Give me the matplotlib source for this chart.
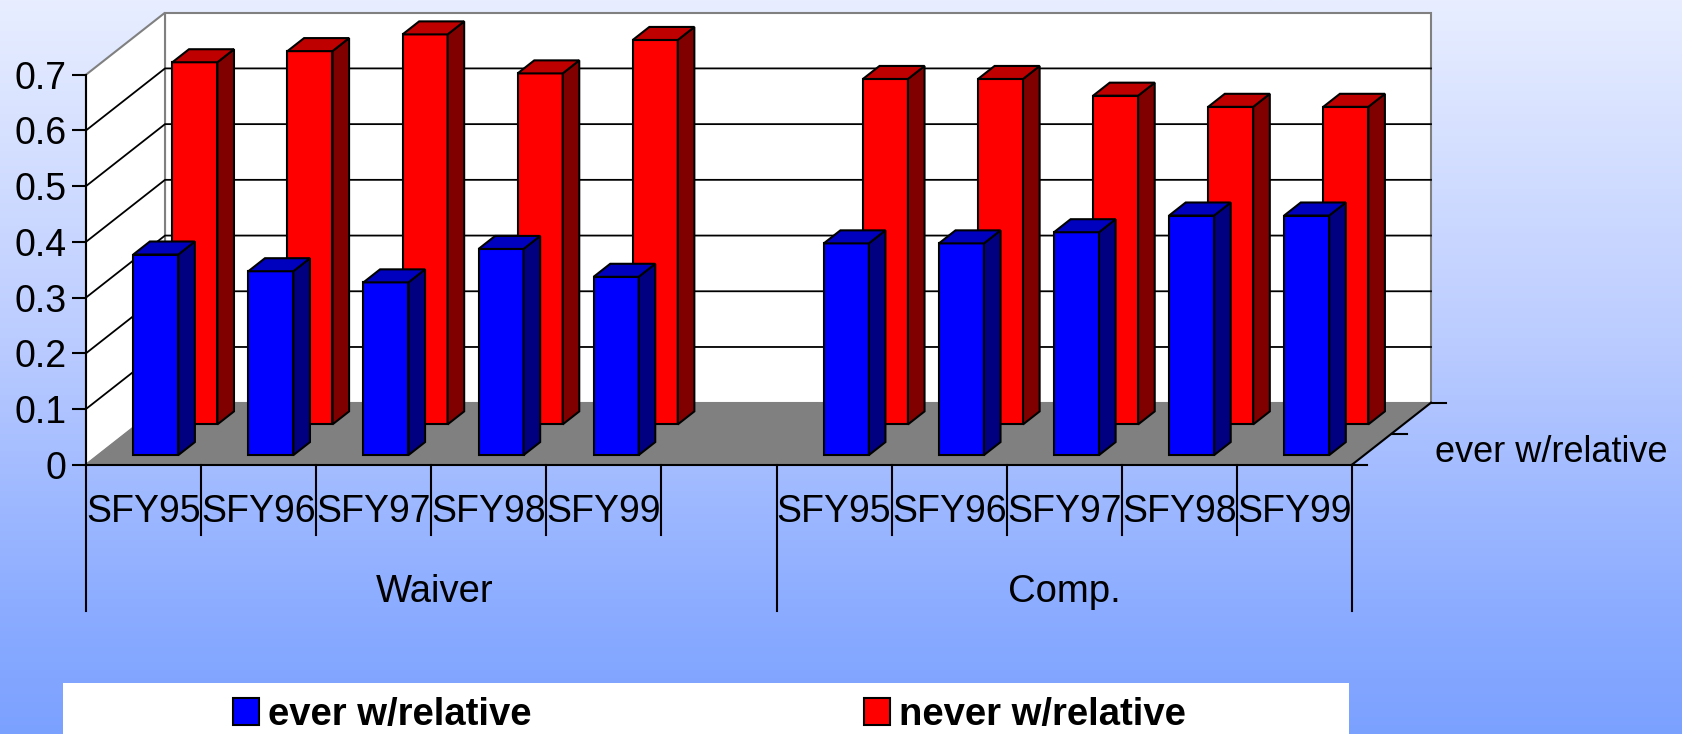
import matplotlib
matplotlib.use('Agg')
import matplotlib.pyplot as plt
import numpy as np
from matplotlib.colors import LinearSegmentedColormap
from matplotlib.patches import Patch, Polygon, Rectangle

plt.rcParams['font.family'] = ['Liberation Sans', 'DejaVu Sans']

years = ['SFY95', 'SFY96', 'SFY97', 'SFY98', 'SFY99']
groups = ['Waiver', 'Comp.']
y_ticks = [0, 0.1, 0.2, 0.3, 0.4, 0.5, 0.6, 0.7]
y_labels = ['0', '0.1', '0.2', '0.3', '0.4', '0.5', '0.6', '0.7']
ever_waiver = [0.36, 0.33, 0.31, 0.37, 0.32]
ever_comp = [0.38, 0.38, 0.40, 0.43, 0.43]
never_waiver = [0.65, 0.67, 0.70, 0.63, 0.69]
never_comp = [0.62, 0.62, 0.59, 0.57, 0.57]
series_names = ['ever w/relative', 'never w/relative']

W, H = 1682, 734
DPI = 100
# front plane of the 3d box, in pixels
LEFT, RIGHT, BASE, TOP = 86, 1352, 464.7, 74.7
N_SLOTS = 11
PX_X = (RIGHT - LEFT) / N_SLOTS
PX_Y = (BASE - TOP) / 0.7
# how far the back wall is shifted from the front plane
DX = 79 / PX_X
DY = 62 / PX_Y
BAR_W = 45 / PX_X
LW = 1.5


def shift(x, v, d):
    return x + d * DX, v + d * DY


def poly(ax, corners, **kw):
    pts = [shift(*c) for c in corners]
    ax.add_patch(Polygon(pts, closed=True, clip_on=False, **kw))


def draw_bars(ax, slots, values, d0, d1, front, side, top):
    for s, v in zip(slots, values):
        x = s + 0.5
        xf, yf = shift(x, 0, d0)
        ax.bar(xf, v, width=BAR_W, bottom=yf, color=front, edgecolor='k',
               linewidth=LW, clip_on=False, zorder=3)
        l, r = x - BAR_W / 2, x + BAR_W / 2
        poly(ax, [(r, 0, d0), (r, 0, d1), (r, v, d1), (r, v, d0)],
             facecolor=side, edgecolor='k', linewidth=LW, zorder=3)
        poly(ax, [(l, v, d0), (r, v, d0), (r, v, d1), (l, v, d1)],
             facecolor=top, edgecolor='k', linewidth=LW, zorder=3)


fig = plt.figure(figsize=(W / DPI, H / DPI), dpi=DPI)

# background gradient
bg = fig.add_axes([0, 0, 1, 1], zorder=-1)
cmap = LinearSegmentedColormap.from_list(
    'bg', [(0, '#E8EEFF'), (0.46, '#BBCCFF'), (0.84, '#8AABFF'), (1, '#7BA1FF')])
bg.imshow(np.linspace(0, 1, 256).reshape(-1, 1), aspect='auto', cmap=cmap)
bg.axis('off')

# white legend strip
fig.add_artist(Rectangle((63 / W, 0), (1349 - 63) / W, (H - 683) / H,
                         transform=fig.transFigure, facecolor='white', edgecolor='none'))

ax = fig.add_axes([LEFT / W, 1 - BASE / H, (RIGHT - LEFT) / W, (BASE - TOP) / H])
ax.patch.set_alpha(0)
ax.set_xlim(0, N_SLOTS)
ax.set_ylim(0, 0.7)
for name in ['top', 'right']:
    ax.spines[name].set_visible(False)
ax.spines['left'].set_linewidth(LW)
ax.spines['bottom'].set_linewidth(LW)
ax.spines['left'].set_zorder(5)
ax.spines['bottom'].set_zorder(5)

# walls and floor
poly(ax, [(0, 0, 1), (N_SLOTS, 0, 1), (N_SLOTS, 0.7, 1), (0, 0.7, 1)],
     facecolor='white', edgecolor='#808080', linewidth=LW, zorder=0)
poly(ax, [(0, 0, 0), (0, 0, 1), (0, 0.7, 1), (0, 0.7, 0)],
     facecolor='white', edgecolor='#808080', linewidth=LW, zorder=0)
poly(ax, [(0, 0, 0), (N_SLOTS, 0, 0), (N_SLOTS, 0, 1), (0, 0, 1)],
     facecolor='#808080', edgecolor='#808080', linewidth=0.8, zorder=1)

# gridlines, along the side wall then the back wall
for t in y_ticks[1:-1]:
    x0, y0 = shift(0, t, 0)
    x1, y1 = shift(0, t, 1)
    x2, y2 = shift(N_SLOTS, t, 1)
    ax.plot([x0, x1, x2], [y0, y1, y2], color='k', lw=1.3, clip_on=False, zorder=2)

# depth edge on the right with its ticks
x0, y0 = shift(N_SLOTS, 0, 0)
x1, y1 = shift(N_SLOTS, 0, 1)
ax.plot([x0, x1], [y0, y1], color='k', lw=LW, clip_on=False, zorder=2)
for d in [0, 0.5, 1]:
    xd, yd = shift(N_SLOTS, 0, d)
    ax.plot([xd, xd + 15 / PX_X], [yd, yd], color='k', lw=LW, clip_on=False, zorder=2)

waiver_slots = range(0, 5)
comp_slots = range(6, 11)
draw_bars(ax, waiver_slots, never_waiver, 0.65, 0.86, '#FF0000', '#800000', '#BF0000')
draw_bars(ax, comp_slots, never_comp, 0.65, 0.86, '#FF0000', '#800000', '#BF0000')
draw_bars(ax, waiver_slots, ever_waiver, 0.155, 0.365, '#0000FF', '#000080', '#0000BF')
draw_bars(ax, comp_slots, ever_comp, 0.155, 0.365, '#0000FF', '#000080', '#0000BF')

ax.set_yticks(y_ticks)
ax.set_yticklabels(y_labels, fontsize=27)
ax.tick_params(axis='y', length=10, width=LW, pad=4)
ax.set_xticks([])

# two level category axis below the floor
short_v = -70 / PX_Y
long_v = -146 / PX_Y
for s in range(N_SLOTS + 1):
    low = long_v if s in (0, 6, N_SLOTS) else short_v
    ax.plot([s, s], [0, low], color='k', lw=LW, clip_on=False, zorder=5)
for slots in (waiver_slots, comp_slots):
    for s, name in zip(slots, years):
        ax.text(s + 0.5, -47 / PX_Y, name, fontsize=27, ha='center', va='center')
ax.text(3.03, -127 / PX_Y, groups[0], fontsize=27.5, ha='center', va='center')
ax.text(8.5, -127 / PX_Y, groups[1], fontsize=27.5, ha='center', va='center')

fig.text(1435 / W, 1 - 453 / H, series_names[0], fontsize=26, ha='left', va='center')

# legend inside the white strip
handles = [Patch(facecolor='#0000FF', edgecolor='k', linewidth=LW),
           Patch(facecolor='#FF0000', edgecolor='k', linewidth=LW)]
fig.legend(handles, series_names, ncol=2, frameon=False, loc='center left',
           bbox_to_anchor=(233 / W, 1 - 715 / H), borderpad=0, borderaxespad=0,
           handlelength=0.68, handleheight=0.68, handletextpad=0.23, columnspacing=8.72,
           prop={'size': 27.5, 'weight': 'bold'})

fig.savefig('out.png', dpi=DPI)
